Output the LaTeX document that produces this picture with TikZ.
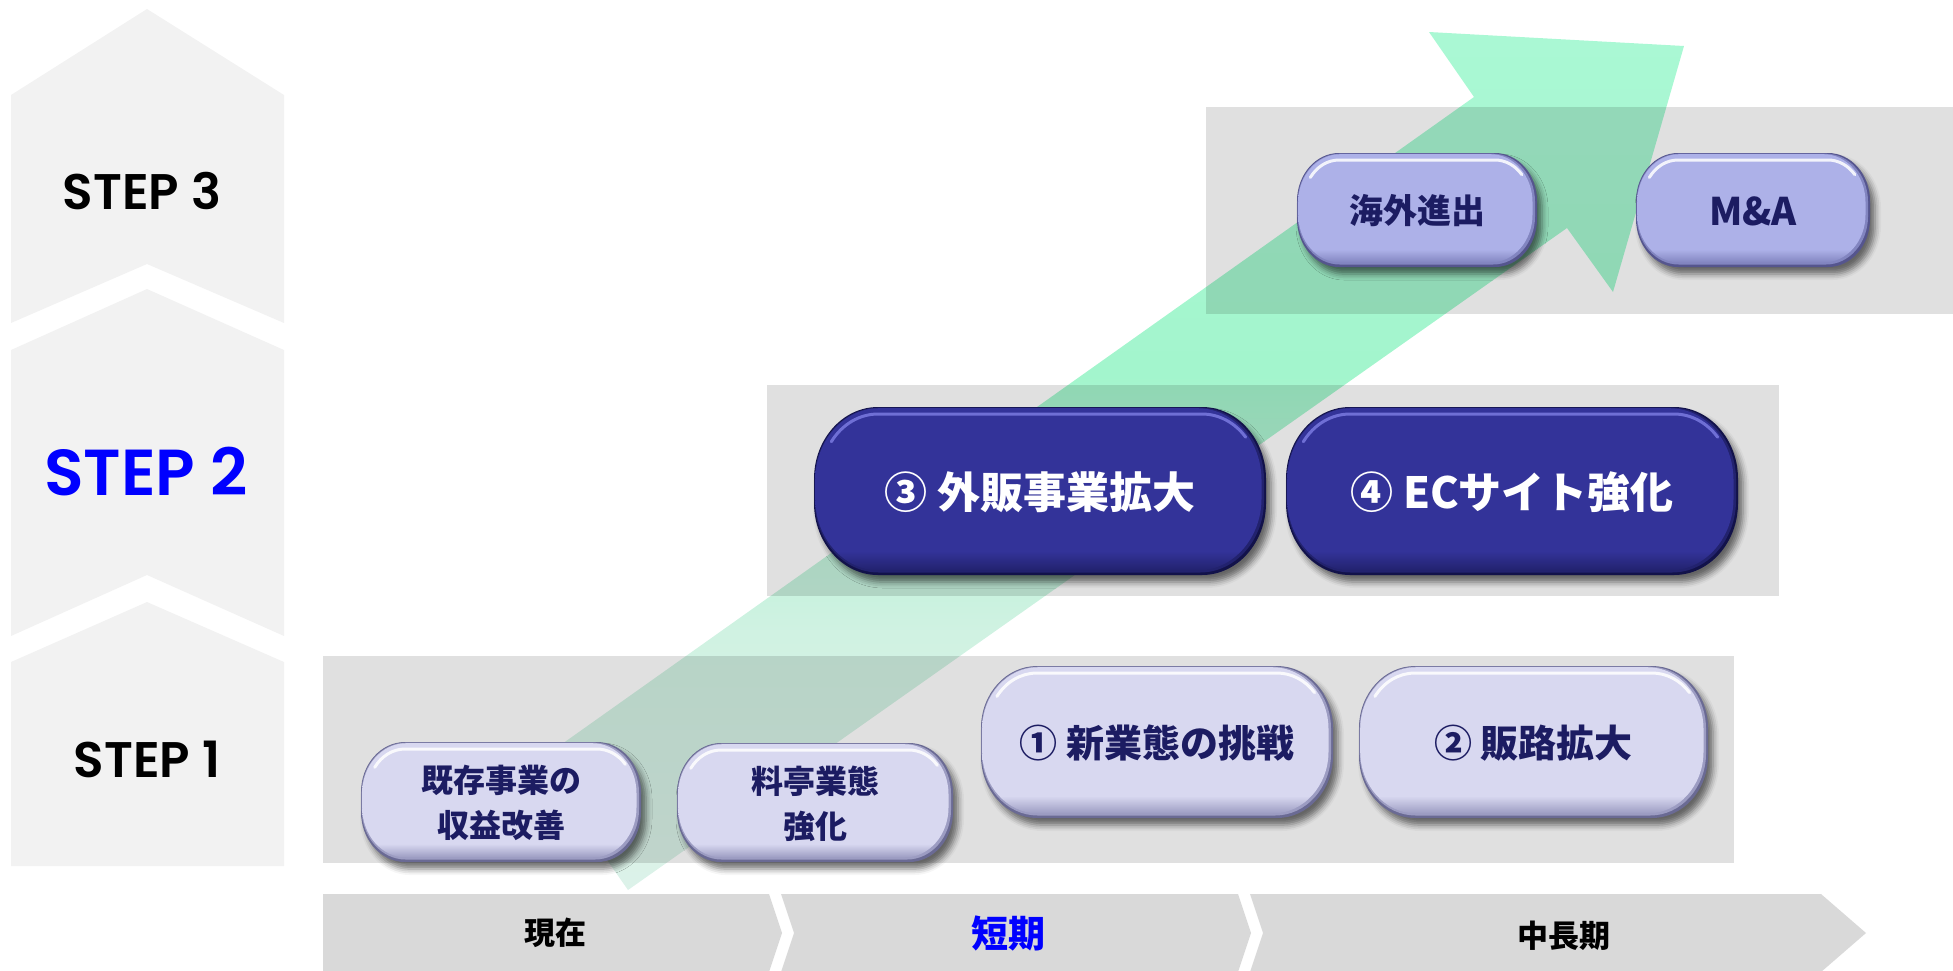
\documentclass[tikz,border=0pt]{standalone}
\usepackage{fontspec}
\setmainfont{Noto Sans CJK JP}
\newfontfamily\stepfont{Poppins SemiBold}
\usetikzlibrary{shadows.blur}
\definecolor{colgray}{HTML}{F2F2F2}
\definecolor{tlgray}{HTML}{D9D9D9}
\definecolor{navytext}{RGB}{28,28,98}
\definecolor{stepblue}{RGB}{0,0,255}
\definecolor{ltrim}{HTML}{6A6A94}
\definecolor{ltmid}{HTML}{9C9CC2}
\definecolor{ltface}{HTML}{D8D8F0}
\definecolor{lthl}{HTML}{FFFFFF}
\definecolor{mdrim}{HTML}{55558E}
\definecolor{mdmid}{HTML}{8285C0}
\definecolor{mdface}{HTML}{ADB1E8}
\definecolor{mdhl}{HTML}{FFFFFF}
\definecolor{dkrim}{HTML}{12124A}
\definecolor{dkmid}{HTML}{22226E}
\definecolor{dkface}{HTML}{333399}
\definecolor{dkhl}{HTML}{7A7AE0}
\definecolor{arrA}{RGB}{220,242,233}
\definecolor{arrB}{RGB}{208,242,226}
\definecolor{arrC}{RGB}{163,245,205}
\definecolor{arrD}{RGB}{170,248,212}
\pgfdeclareverticalshading{arrowshade}{100bp}{color(0bp)=(arrA); color(25bp)=(arrA); color(40bp)=(arrB); color(55bp)=(arrC); color(75bp)=(arrD); color(100bp)=(arrD)}
\pgfdeclareverticalshading{ltshade}{100bp}{color(0bp)=(ltmid); color(25bp)=(ltmid); color(31bp)=(ltface); color(100bp)=(ltface)}
\pgfdeclareverticalshading{mdshade}{100bp}{color(0bp)=(mdmid); color(25bp)=(mdmid); color(31bp)=(mdface); color(100bp)=(mdface)}
\pgfdeclareverticalshading{dkshade}{100bp}{color(0bp)=(dkmid); color(25bp)=(dkmid); color(31bp)=(dkface); color(100bp)=(dkface)}
\tikzset{
  colpiece/.style={fill=colgray},
  tlseg/.style={fill=tlgray},
  band/.style={fill=black, fill opacity=0.12},
  steplabel/.style={font=\stepfont\fontsize{50}{56}\selectfont, text=black},
  tllabel/.style={font=\bfseries\fontsize{31}{36}\selectfont, text=black},
  lttext/.style={text=navytext, align=center},
  mdtext/.style={text=navytext, align=center},
  dktext/.style={text=white, align=center},
}
\newcommand\pillshape[6]{({#1+#5},{#2}) -- ({#3-#5},{#2}) arc[start angle=270,end angle=360,x radius=#5,y radius=#6] -- ({#3},{#4-#6}) arc[start angle=0,end angle=90,x radius=#5,y radius=#6] -- ({#1+#5},{#4}) arc[start angle=90,end angle=180,x radius=#5,y radius=#6] -- ({#1},{#2+#6}) arc[start angle=180,end angle=270,x radius=#5,y radius=#6] -- cycle}
\newcommand\mybutton[9]{%
  \fill[#7rim, blur shadow={shadow xshift=5pt,shadow yshift=-7pt,shadow blur radius=6pt,shadow opacity=55}] \pillshape{#1}{#2}{#3}{#4}{#5}{#6};
  \fill[#7mid] \pillshape{#1+0.7}{#2+0.7}{#3-2}{#4-2.5}{#5}{#6};
  \shade[shading=#7shade] \pillshape{#1+1.2}{#2+1.2}{#3-4.5}{#4-4.5}{#5}{#6};
  \draw[#7hl, line width=3pt, line cap=round, opacity=.85] ({#1+#5+(#5-7)*cos(215)},{#2+#6+(#6-7)*sin(215)}) arc[start angle=215,end angle=270,x radius={#5-7},y radius={#6-7}] -- ({#3-#5},{#2+7}) arc[start angle=270,end angle=320,x radius={#5-7},y radius={#6-7}];
  \node[#7text, #8] at ({(#1+#3)/2},{(#2+#4)/2+1}) {#9};
}
\begin{document}
\begin{tikzpicture}[x=1pt,y=-1pt]
\useasboundingbox (0,0) rectangle (1953,970);
% left step column
\fill[colpiece] (11,95) -- (147,9) -- (284,95) -- (284,323) -- (147,264) -- (11,323) -- cycle;
\fill[colpiece] (11,350) -- (147,289) -- (284,350) -- (284,636) -- (147,575) -- (11,636) -- cycle;
\fill[colpiece] (11,662) -- (147,602) -- (284,662) -- (284,866) -- (11,866) -- cycle;
\node[steplabel] (s3) at (142,191) {STEP 3};
\node[steplabel, text=stepblue, font=\stepfont\fontsize{65}{70}\selectfont] (s2) at (146,472) {STEP 2};
\node[steplabel] (s1) at (147,759) {STEP 1};
% timeline
\fill[tlseg] (323,894) -- (769,894) -- (782,933) -- (769,972) -- (323,972) -- cycle;
\fill[tlseg] (781,894) -- (1238,894) -- (1251,933) -- (1238,972) -- (781,972) -- (794,933) -- cycle;
\fill[tlseg] (1250,894) -- (1821,894) -- (1866,933) -- (1821,972) -- (1250,972) -- (1263,933) -- cycle;
\node[tllabel] (t1) at (555,933) {現在};
\node[tllabel, text=stepblue, font=\bfseries\fontsize{37}{42}\selectfont] (t2) at (1008,933) {短期};
\node[tllabel] (t3) at (1564,936) {中長期};
% growth arrow
\shade[shading=arrowshade] (628,890) -- (1567,228) -- (1613,292) -- (1684,46) -- (1429,32) -- (1474,97) -- (538,761) -- cycle;
% bands
\fill[band] (323,656) rectangle (1734,863);
\fill[band] (767,385) rectangle (1779,596);
\fill[band] (1206,107) rectangle (1953,314);
% buttons
\mybutton{361}{742}{641}{862}{44}{50}{lt}{name=b1, font=\bfseries\fontsize{32}{45}\selectfont}{既存事業の\\収益改善}
\mybutton{677}{743}{953}{862}{44}{50}{lt}{name=b2, font=\bfseries\fontsize{32}{45}\selectfont}{料亭業態\\強化}
\mybutton{981}{666}{1333}{818}{56}{62}{lt}{name=b3, font=\bfseries\fontsize{38}{44}\selectfont}{① 新業態の挑戦}
\mybutton{1359}{666}{1708}{818}{56}{62}{lt}{name=b4, font=\bfseries\fontsize{38}{44}\selectfont}{② 販路拡大}
\mybutton{814}{407}{1266}{575}{64}{72}{dk}{name=b5, font=\bfseries\fontsize{43}{48}\selectfont}{③ 外販事業拡大}
\mybutton{1286}{407}{1738}{575}{64}{72}{dk}{name=b6, font=\bfseries\fontsize{43}{48}\selectfont}{④ ECサイト強化}
\mybutton{1297}{153}{1537}{267}{42}{48}{md}{name=b7, font=\bfseries\fontsize{34}{40}\selectfont}{海外進出}
\mybutton{1636}{153}{1870}{267}{42}{48}{md}{name=b8, font=\bfseries\fontsize{38}{44}\selectfont}{M\&A}
\end{tikzpicture}
\end{document}
